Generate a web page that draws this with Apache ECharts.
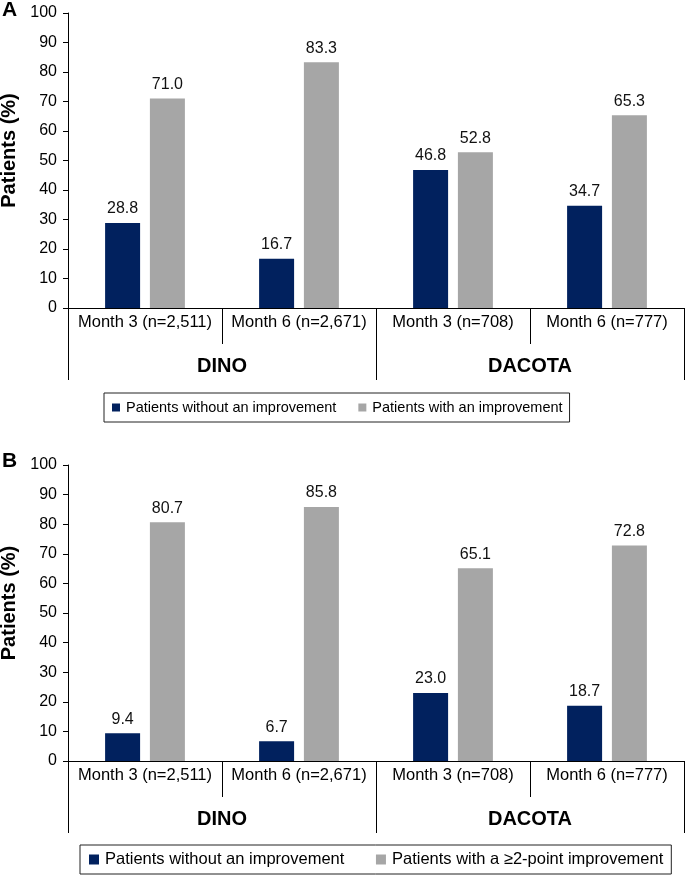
<!DOCTYPE html>
<html>
<head>
<meta charset="utf-8">
<script src="https://cdn.jsdelivr.net/npm/echarts@6/dist/echarts.min.js"></script>
<style>
html,body{margin:0;padding:0;background:#fff;}
#chart{width:688px;height:876px;}
</style>
</head>
<body>
<div id="chart"></div>
<script>
const categories = ['Month 3 (n=2,511)', 'Month 6 (n=2,671)', 'Month 3 (n=708)', 'Month 6 (n=777)'];
const groups = ['DINO', 'DACOTA'];
const yTicks = [0, 10, 20, 30, 40, 50, 60, 70, 80, 90, 100];

const panelA_without = [28.8, 16.7, 46.8, 34.7];
const panelA_with = [71.0, 83.3, 52.8, 65.3];
const panelB_without = [9.4, 6.7, 23.0, 18.7];
const panelB_with = [80.7, 85.8, 65.1, 72.8];

const seriesNamesA = ['Patients without an improvement', 'Patients with an improvement'];
const seriesNamesB = ['Patients without an improvement ', 'Patients with a \u22652-point improvement'];

const NAVY = '#01215e';
const GRAY = '#a6a6a6';
const FONT = '"Liberation Sans", Arial, Helvetica, sans-serif';

const grids = [
  { left: 68, top: 13, width: 616, height: 295, outerBoundsMode: 'none', containLabel: false },
  { left: 68, top: 465, width: 616, height: 296, outerBoundsMode: 'none', containLabel: false }
];

function xAxes(gi) {
  return [
    {
      type: 'category', gridIndex: gi, data: categories, position: 'bottom',
      axisLine: { show: true, lineStyle: { color: '#000', width: 1 } },
      axisTick: { show: true, interval: 0, length: 36, lineStyle: { color: '#000', width: 1 } },
      axisLabel: { interval: 0, margin: 6, fontSize: 16.5, color: '#000', fontFamily: FONT }
    },
    {
      type: 'category', gridIndex: gi, data: groups, position: 'bottom',
      axisLine: { show: false },
      axisTick: { show: true, interval: 0, length: 72, lineStyle: { color: '#000', width: 1 } },
      axisLabel: { interval: 0, margin: 48, fontSize: 20, fontWeight: 'bold', color: '#000', fontFamily: FONT }
    }
  ];
}

function yAxis(gi) {
  return {
    type: 'value', gridIndex: gi, min: yTicks[0], max: yTicks[yTicks.length - 1], interval: yTicks[1] - yTicks[0],
    name: 'Patients (%)', nameLocation: 'middle', nameGap: 45,
    nameTextStyle: { fontSize: 20, fontWeight: 'bold', color: '#000', fontFamily: FONT, padding: [0, 0, 0, 20] },
    axisLine: { show: true, lineStyle: { color: '#000', width: 1 } },
    axisTick: { show: true, inside: false, length: 5, lineStyle: { color: '#000', width: 1 } },
    axisLabel: { fontSize: 16, color: '#000', fontFamily: FONT, margin: 11 },
    splitLine: { show: false }
  };
}

function barSeries(name, data, color, gi) {
  return {
    type: 'bar', name: name, data: data, xAxisIndex: gi * 2, yAxisIndex: gi,
    barWidth: 35, barGap: '28%',
    itemStyle: { color: color },
    label: {
      show: true, position: 'top', distance: 6, fontSize: 16, color: '#111', fontFamily: FONT,
      formatter: p => p.value.toFixed(1)
    }
  };
}

const chart = echarts.init(document.getElementById('chart'), null, { renderer: 'canvas' });
chart.setOption({
  animation: false,
  backgroundColor: '#fff',
  title: [
    { text: 'A', left: 2, top: 0, textStyle: { fontSize: 21, fontWeight: 'bold', color: '#000', fontFamily: FONT }, padding: 0 },
    { text: 'B', left: 2, top: 451, textStyle: { fontSize: 21, fontWeight: 'bold', color: '#000', fontFamily: FONT }, padding: 0 }
  ],
  legend: [
    {
      data: seriesNamesA, left: 104, top: 393,
      orient: 'horizontal', itemWidth: 8, itemHeight: 8, itemGap: 22,
      borderColor: '#222', borderWidth: 1, padding: [7, 7, 7, 8],
      textStyle: { fontSize: 14.5, color: '#000', fontFamily: FONT, padding: [0, 0, 0, 1] },
      icon: 'rect'
    },
    {
      data: seriesNamesB, left: 80, top: 845,
      orient: 'horizontal', itemWidth: 10, itemHeight: 10, itemGap: 27,
      borderColor: '#222', borderWidth: 1, padding: [6, 8, 6, 9],
      textStyle: { fontSize: 16.5, color: '#000', fontFamily: FONT, padding: [0, 0, 0, 1] },
      icon: 'rect'
    }
  ],
  grid: grids,
  xAxis: [...xAxes(0), ...xAxes(1)],
  yAxis: [yAxis(0), yAxis(1)],
  series: [
    barSeries(seriesNamesA[0], panelA_without, NAVY, 0),
    barSeries(seriesNamesA[1], panelA_with, GRAY, 0),
    barSeries(seriesNamesB[0], panelB_without, NAVY, 1),
    barSeries(seriesNamesB[1], panelB_with, GRAY, 1)
  ]
});
</script>
</body>
</html>
